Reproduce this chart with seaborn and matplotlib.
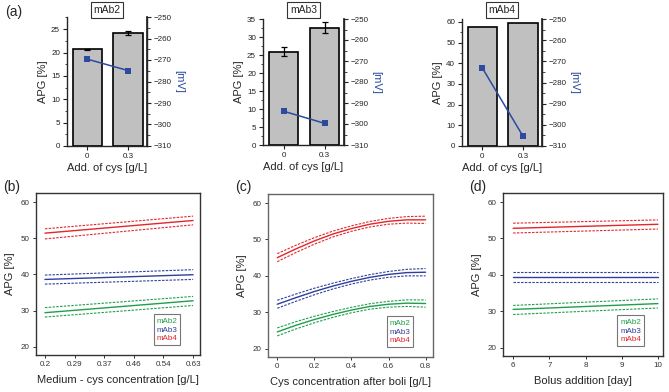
import numpy as np
import pandas as pd
import matplotlib
matplotlib.use("Agg")
import matplotlib.pyplot as plt
import seaborn as sns
from matplotlib.lines import Line2D
from matplotlib.ticker import MultipleLocator, AutoMinorLocator

sns.set_theme(style="ticks")
plt.rcParams['font.family'] = ['Liberation Sans', 'DejaVu Sans']

# ---- data: panel (a) ----
cys_add = ['0', '0.3']
apg_bar = {'mAb2': [20.7, 24.2], 'mAb3': [25.9, 32.6], 'mAb4': [57.7, 59.3]}
apg_err = {'mAb2': [0.1, 0.45], 'mAb3': [1.2, 1.5], 'mAb4': [0.0, 0.0]}
redox_mv = {'mAb2': [-269.6, -274.9], 'mAb3': [-293.9, -299.7], 'mAb4': [-273.1, -305.3]}
apg_ymax = {'mAb2': 27.6, 'mAb3': 35, 'mAb4': 61.4}
apg_step = {'mAb2': 5, 'mAb3': 5, 'mAb4': 10}

# ---- data: panel (b) ----
x_b = [0.2, 0.63]
b_mid = {'mAb2': [29.4, 32.7], 'mAb3': [38.6, 39.9], 'mAb4': [51.4, 54.9]}
b_lo = {'mAb2': [28.2, 31.4], 'mAb3': [37.3, 38.6], 'mAb4': [49.8, 53.7]}
b_hi = {'mAb2': [30.8, 33.9], 'mAb3': [39.8, 41.3], 'mAb4': [52.6, 56.1]}
b_ticks = [0.2, 0.286, 0.372, 0.458, 0.544, 0.63]
b_ticklabels = ['0.2', '0.29', '0.37', '0.46', '0.54', '0.63']

# ---- data: panel (c) ----
x_c = [0.0, 0.1, 0.2, 0.3, 0.4, 0.5, 0.6, 0.7, 0.8]
c_mid = {'mAb2': [24.6, 26.4, 28.0, 29.4, 30.6, 31.6, 32.2, 32.5, 32.4],
         'mAb3': [32.2, 34.0, 35.7, 37.2, 38.5, 39.6, 40.4, 40.9, 41.0],
         'mAb4': [45.0, 47.4, 49.6, 51.5, 53.0, 54.2, 55.0, 55.4, 55.4]}
c_half = [1.1, 1.0, 0.9, 0.8, 0.75, 0.75, 0.8, 0.9, 1.0]

# ---- data: panel (d) ----
x_d = [6, 10]
d_mid = {'mAb2': [30.5, 32.1], 'mAb3': [39.4, 39.4], 'mAb4': [52.8, 53.9]}
d_lo = {'mAb2': [29.1, 30.9], 'mAb3': [38.0, 38.0], 'mAb4': [51.5, 52.6]}
d_hi = {'mAb2': [31.6, 33.4], 'mAb3': [40.7, 40.7], 'mAb4': [54.2, 55.1]}

colors = {'mAb2': '#1f9e4b', 'mAb3': '#2e3f9c', 'mAb4': '#e3262b'}
mv_color = '#2b4aa0'

W, H = 669, 392
fig = plt.figure(figsize=(W / 100, H / 100), dpi=100)


def px_axes(x0, y0, x1, y1):
    return fig.add_axes([x0 / W, 1 - y1 / H, (x1 - x0) / W, (y1 - y0) / H])


tick_fs = 5.8
lab_fs = 8

# ---------- top row ----------
top_boxes = {'mAb2': (67, 17, 147, 146), 'mAb3': (263, 19, 344, 145), 'mAb4': (462, 19, 542, 146)}
for name, box in top_boxes.items():
    ax = px_axes(*box)
    df = pd.DataFrame({'cys': cys_add, 'apg': apg_bar[name]})
    sns.barplot(data=df, x='cys', y='apg', color='#c0c0c0', edgecolor='black',
                linewidth=1.2, width=0.72, saturation=1, ax=ax)
    if max(apg_err[name]) > 0:
        ax.errorbar(np.arange(len(cys_add)), apg_bar[name], yerr=apg_err[name],
                    fmt='none', ecolor='black', elinewidth=0.9, capsize=2.5, capthick=0.9)
    ax.set_xlim(-0.5, 1.47)
    ax.set_ylim(0, apg_ymax[name])
    ax.yaxis.set_major_locator(MultipleLocator(apg_step[name]))
    ax.yaxis.set_minor_locator(AutoMinorLocator(2))
    ax.set_xlabel('Add. of cys [g/L]', fontsize=lab_fs, labelpad=2)
    ax.set_ylabel('APG [%]', fontsize=lab_fs, labelpad=2)
    ax.tick_params(labelsize=tick_fs, length=3, width=0.8, pad=2, colors='#222222')
    ax.tick_params(which='minor', length=1.8, width=0.6)
    for s in ['left', 'bottom']:
        ax.spines[s].set_linewidth(1.0)
    ax.spines['top'].set_visible(False)

    ax2 = ax.twinx()
    sns.lineplot(x=np.arange(len(cys_add)), y=redox_mv[name], color=mv_color, marker='s',
                 markersize=5, markeredgewidth=0, linewidth=1.1, ax=ax2)
    ax2.set_ylim(-310, -250)
    ax2.yaxis.set_major_locator(MultipleLocator(10))
    ax2.yaxis.set_minor_locator(AutoMinorLocator(2))
    ax2.set_ylabel('[mV]', fontsize=lab_fs, color=mv_color, rotation=270, labelpad=9)
    ax2.tick_params(labelsize=tick_fs, length=3, width=0.8, pad=2, colors='#222222')
    ax2.tick_params(which='minor', length=1.8, width=0.6)
    ax2.spines['top'].set_visible(False)
    ax2.spines['left'].set_visible(False)
    ax2.spines['bottom'].set_visible(False)
    ax2.spines['right'].set_linewidth(1.0)

    cx = (box[0] + box[2]) / 2 / W
    fig.text(cx, 1 - 10 / H, name, ha='center', va='center', fontsize=7.5,
             bbox=dict(boxstyle='square,pad=0.25', facecolor='white', edgecolor='#333333', linewidth=0.8))

fig.text(5 / W, 1 - 12 / H, '(a)', fontsize=10, va='center')


# ---------- bottom row ----------
def style_bottom(ax, xlabel, frame_color='#333333'):
    ax.set_ylim(17.7, 62.5)
    ax.set_yticks([20, 30, 40, 50, 60])
    ax.set_xlabel(xlabel, fontsize=lab_fs, labelpad=5)
    ax.set_ylabel('APG [%]', fontsize=lab_fs, labelpad=4)
    ax.tick_params(labelsize=tick_fs, length=2.5, width=0.7, pad=2, colors='#333333')
    for s in ax.spines.values():
        s.set_visible(True)
        s.set_linewidth(1.0)
        s.set_color(frame_color)
    handles = [Line2D([], [], linestyle='none') for _ in colors]
    leg = ax.legend(handles, list(colors), loc='lower right', bbox_to_anchor=(0.88, 0.06),
                    handlelength=0, handletextpad=0, fontsize=tick_fs, frameon=True,
                    fancybox=False, labelcolor=list(colors.values()), borderpad=0.35,
                    labelspacing=0.15, borderaxespad=0)
    leg.get_frame().set_edgecolor('#555555')
    leg.get_frame().set_linewidth(0.8)


def draw_band(ax, x, mid, lo, hi, color):
    sns.lineplot(x=x, y=mid, color=color, linewidth=1.0, ax=ax)
    for edge in (lo, hi):
        sns.lineplot(x=x, y=edge, color=color, linewidth=0.8, linestyle=(0, (2.2, 1.2)), ax=ax)


# (b)
axb = px_axes(36, 193, 200, 355)
for name, c in colors.items():
    draw_band(axb, x_b, b_mid[name], b_lo[name], b_hi[name], c)
axb.set_xlim(0.174, 0.65)
axb.set_xticks(b_ticks)
axb.set_xticklabels(b_ticklabels)
style_bottom(axb, 'Medium - cys concentration [g/L]')
fig.text(3 / W, 1 - 187 / H, '(b)', fontsize=10, va='center')

# (c)
axc = px_axes(268, 194, 433, 357)
for name, c in colors.items():
    mid = np.array(c_mid[name])
    draw_band(axc, x_c, mid, mid - np.array(c_half), mid + np.array(c_half), c)
axc.set_xlim(-0.05, 0.84)
axc.set_xticks([0, 0.2, 0.4, 0.6, 0.8])
axc.set_xticklabels(['0', '0.2', '0.4', '0.6', '0.8'])
style_bottom(axc, 'Cys concentration after boli [g/L]', frame_color='#666666')
fig.text(235 / W, 1 - 187 / H, '(c)', fontsize=10, va='center')

# (d)
axd = px_axes(503, 193, 663, 356)
for name, c in colors.items():
    draw_band(axd, x_d, d_mid[name], d_lo[name], d_hi[name], c)
axd.set_xlim(5.72, 10.14)
axd.set_xticks([6, 7, 8, 9, 10])
style_bottom(axd, 'Bolus addition [day]')
fig.text(469 / W, 1 - 187 / H, '(d)', fontsize=10, va='center')

fig.savefig('out.png', dpi=100)
